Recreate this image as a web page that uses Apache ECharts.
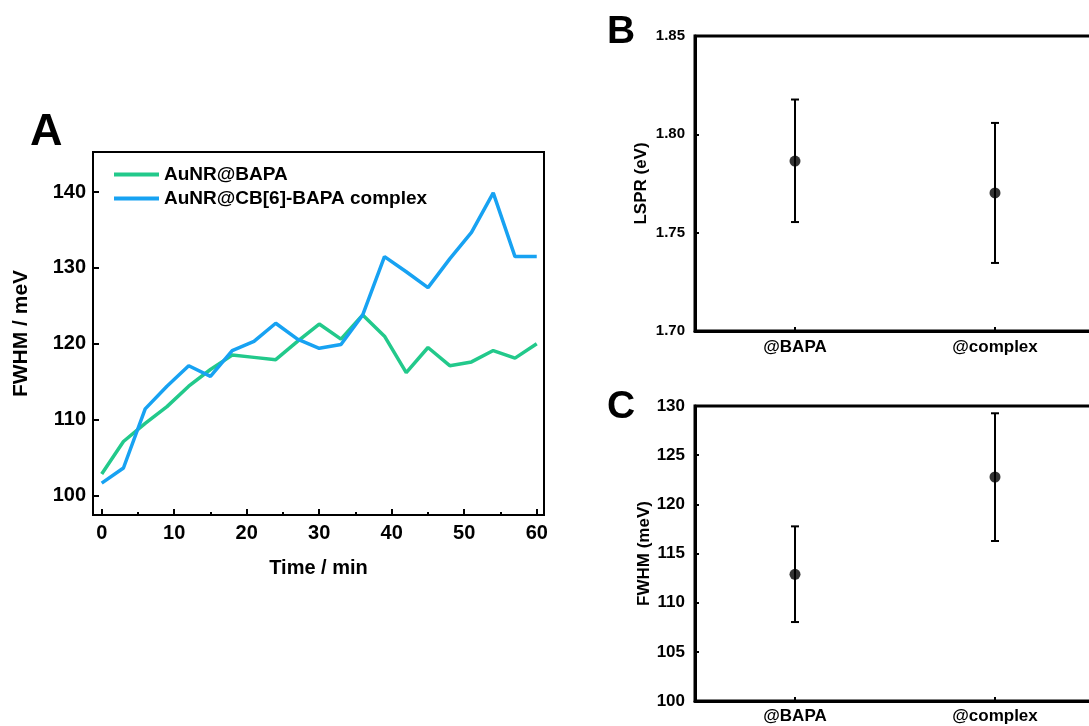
<!DOCTYPE html>
<html>
<head>
<meta charset="utf-8">
<script src="https://cdn.jsdelivr.net/npm/echarts@6/dist/echarts.min.js"></script>
<style>
html,body{margin:0;padding:0;background:#fff;}
#chart{width:1089px;height:726px;}
</style>
</head>
<body>
<div id="chart"></div>
<script>
// ---- Panel A data ----
var timeMin = [0,3,6,9,12,15,18,21,24,27,30,33,36,39,42,45,48,51,54,57,60];
var fwhmBAPA = [102.8,107.1,109.5,111.7,114.4,116.6,118.5,118.2,117.9,120.3,122.6,120.6,123.8,121.0,116.2,119.5,117.1,117.6,119.1,118.1,120.0];
var fwhmComplex = [101.6,103.6,111.4,114.4,117.1,115.7,119.1,120.3,122.7,120.6,119.4,119.9,123.8,131.5,129.5,127.4,131.2,134.7,139.9,131.5,131.5];
var seriesNames = ['AuNR@BAPA','AuNR@CB[6]-BAPA complex'];
// ---- Panel B / C data ----
var categories = ['@BAPA','@complex'];
var lsprMean = [1.7864, 1.7702];
var lsprLow = [1.7554, 1.7346];
var lsprHigh = [1.8177, 1.8058];
var fwhmMean = [112.88, 122.78];
var fwhmLow = [108.03, 116.27];
var fwhmHigh = [117.76, 129.26];

var FONT = "'Liberation Sans', Arial, Helvetica, sans-serif";
var chart = echarts.init(document.getElementById('chart'), null, {renderer:'canvas'});

function pairs(xs, ys){ return xs.map(function(x,i){ return [x, ys[i]]; }); }
function errData(lo, hi){ return lo.map(function(v,i){ return [i, v, hi[i]]; }); }
function errorBar(params, api){
  var x = api.value(0), lo = api.value(1), hi = api.value(2);
  var pLo = api.coord([x, lo]), pHi = api.coord([x, hi]);
  var h = 4;
  var st = {stroke:'#000', lineWidth:2};
  return {type:'group', children:[
    {type:'line', shape:{x1:pLo[0], y1:pLo[1], x2:pHi[0], y2:pHi[1]}, style:st},
    {type:'line', shape:{x1:pLo[0]-h, y1:pLo[1], x2:pLo[0]+h, y2:pLo[1]}, style:st},
    {type:'line', shape:{x1:pHi[0]-h, y1:pHi[1], x2:pHi[0]+h, y2:pHi[1]}, style:st}
  ]};
}
var hideOdd10 = function(v){ return (Math.abs(v/10 - Math.round(v/10)) < 1e-6) ? String(Math.round(v)) : ''; };

function txt(size){ return {fontFamily:FONT, fontWeight:'bold', fontSize:size, color:'#000'}; }

var option = {
  backgroundColor:'#fff',
  animation:false,
  title:[
    {text:'A', left:30, top:110, padding:0, textStyle:txt(45)},
    {text:'B', left:607, top:13, padding:0, textStyle:txt(39)},
    {text:'C', left:607, top:388, padding:0, textStyle:txt(39)}
  ],
  legend:{
    data:seriesNames, orient:'vertical', left:114, top:165, itemGap:5, padding:0,
    itemWidth:45, itemHeight:4, icon:'rect',
    textStyle:txt(19)
  },
  grid:[
    {left:93, top:152, width:451, height:363, show:true, borderColor:'#000', borderWidth:2, backgroundColor:'transparent', outerBoundsMode:'none', containLabel:false},
    {left:695, top:36, width:400, height:295, show:true, borderColor:'#000', borderWidth:3, backgroundColor:'transparent', outerBoundsMode:'none', containLabel:false},
    {left:695, top:406, width:400, height:295, show:true, borderColor:'#000', borderWidth:3, backgroundColor:'transparent', outerBoundsMode:'none', containLabel:false}
  ],
  xAxis:[
    {gridIndex:0, type:'value', position:'bottom', min:-1.2, max:61, splitNumber:5,
     name:'Time / min', nameLocation:'middle', nameGap:43, nameTextStyle:txt(20),
     axisLine:{show:true, onZero:false, lineStyle:{color:'#000', width:2}},
     axisTick:{show:true, inside:true, length:6, lineStyle:{color:'#000', width:2}},
     axisLabel:Object.assign({margin:8, formatter:hideOdd10, showMinLabel:false, showMaxLabel:false}, txt(20)),
     splitLine:{show:false}},
    {gridIndex:0, type:'value', position:'bottom', offset:0, min:-1.2, max:61, splitNumber:12,
     axisLine:{show:false, onZero:false}, axisLabel:{show:false}, splitLine:{show:false},
     axisTick:{show:true, inside:true, length:3, lineStyle:{color:'#000', width:2}}},
    {gridIndex:1, type:'category', data:categories, boundaryGap:true,
     axisLine:{show:true, onZero:false, lineStyle:{color:'#000', width:3}},
     axisTick:{show:true, inside:true, alignWithLabel:true, length:4, lineStyle:{color:'#000', width:2}},
     axisLabel:Object.assign({margin:8}, txt(17)), splitLine:{show:false}},
    {gridIndex:2, type:'category', data:categories, boundaryGap:true,
     axisLine:{show:true, onZero:false, lineStyle:{color:'#000', width:3}},
     axisTick:{show:true, inside:true, alignWithLabel:true, length:4, lineStyle:{color:'#000', width:2}},
     axisLabel:Object.assign({margin:7}, txt(17)), splitLine:{show:false}}
  ],
  yAxis:[
    {gridIndex:0, type:'value', min:97.4, max:145.3, splitNumber:5,
     name:'FWHM / meV', nameLocation:'middle', nameGap:61, nameRotate:90, nameTextStyle:txt(21),
     axisLine:{show:true, onZero:false, lineStyle:{color:'#000', width:2}},
     axisTick:{show:true, inside:true, length:6, lineStyle:{color:'#000', width:2}},
     axisLabel:Object.assign({margin:7, formatter:hideOdd10, showMinLabel:false, showMaxLabel:false}, txt(20)),
     splitLine:{show:false}},
    {gridIndex:1, type:'value', min:1.70, max:1.85, interval:0.05,
     name:'LSPR (eV)', nameLocation:'middle', nameGap:45, nameRotate:90, nameTextStyle:txt(17),
     axisLine:{show:true, onZero:false, lineStyle:{color:'#000', width:3}},
     axisTick:{show:true, inside:true, length:4, lineStyle:{color:'#000', width:2}},
     minorTick:{show:true, splitNumber:2, length:2, lineStyle:{color:'#000', width:2}},
     axisLabel:Object.assign({margin:10, formatter:function(v){return v.toFixed(2);}}, txt(15)),
     splitLine:{show:false}, minorSplitLine:{show:false}},
    {gridIndex:2, type:'value', min:100, max:130, interval:5,
     name:'FWHM (meV)', nameLocation:'middle', nameGap:40, nameRotate:90, nameTextStyle:txt(17),
     axisLine:{show:true, onZero:false, lineStyle:{color:'#000', width:3}},
     axisTick:{show:true, inside:true, length:4, lineStyle:{color:'#000', width:2}},
     minorTick:{show:true, splitNumber:2, length:2, lineStyle:{color:'#000', width:2}},
     axisLabel:Object.assign({margin:10}, txt(17)),
     splitLine:{show:false}, minorSplitLine:{show:false}}
  ],
  series:[
    {name:seriesNames[0], type:'line', xAxisIndex:0, yAxisIndex:0, data:pairs(timeMin, fwhmBAPA),
     symbol:'none', lineStyle:{color:'#22c98b', width:3.5}, itemStyle:{color:'#22c98b'}, z:3},
    {name:seriesNames[1], type:'line', xAxisIndex:0, yAxisIndex:0, data:pairs(timeMin, fwhmComplex),
     symbol:'none', lineStyle:{color:'#17a2f2', width:3.5}, itemStyle:{color:'#17a2f2'}, z:4},
    {name:'lsprErr', type:'custom', xAxisIndex:2, yAxisIndex:1, renderItem:errorBar,
     encode:{x:0, y:[1,2]}, data:errData(lsprLow, lsprHigh), z:5},
    {name:'lsprMean', type:'scatter', xAxisIndex:2, yAxisIndex:1, data:lsprMean,
     symbol:'circle', symbolSize:11, itemStyle:{color:'#000'}, z:6},
    {name:'fwhmErr', type:'custom', xAxisIndex:3, yAxisIndex:2, renderItem:errorBar,
     encode:{x:0, y:[1,2]}, data:errData(fwhmLow, fwhmHigh), z:5},
    {name:'fwhmMean', type:'scatter', xAxisIndex:3, yAxisIndex:2, data:fwhmMean,
     symbol:'circle', symbolSize:11, itemStyle:{color:'#000'}, z:6}
  ]
};
chart.setOption(option);
</script>
</body>
</html>
